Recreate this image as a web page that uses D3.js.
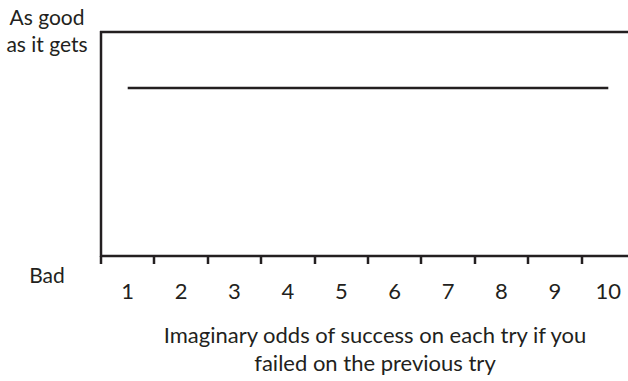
<!DOCTYPE html>
<html><head><meta charset="utf-8">
<script src="https://cdn.jsdelivr.net/npm/d3@7"></script>
<style>body{margin:0;background:#fff}svg{display:block}text{font-family:"Lato","Open Sans",sans-serif;fill:#231f20}</style>
</head><body>
<script>
const categories = [1,2,3,4,5,6,7,8,9,10];
const values = [0.75,0.75,0.75,0.75,0.75,0.75,0.75,0.75,0.75,0.75];
const yLabelTop = ["As good","as it gets"];
const yLabelBottom = "Bad";
const xTitle = ["Imaginary odds of success on each try if you","failed on the previous try"];

const W=628,H=381;
const svg=d3.select("body").append("svg").attr("width",W).attr("height",H);
const x=d3.scaleBand().domain(categories).range([101,635]);
const y=d3.scaleLinear().domain([0,1]).range([256,32]);
const ink="#231f20";
const sw=2.5;

// x axis with ticks at band starts
const gx=svg.append("g");
gx.append("line").attr("x1",100).attr("x2",W).attr("y1",y(0)).attr("y2",y(0)).attr("stroke",ink).attr("stroke-width",sw);
gx.selectAll(".t").data(categories).join("line")
  .attr("x1",d=>Math.round(x(d))).attr("x2",d=>Math.round(x(d)))
  .attr("y1",y(0)).attr("y2",y(0)+8).attr("stroke",ink).attr("stroke-width",sw);
gx.selectAll(".l").data(categories).join("text")
  .attr("x",d=>x(d)+x.bandwidth()/2).attr("y",299)
  .attr("text-anchor","middle").attr("font-size",22).text(d=>d);

// y axis and top border
svg.append("line").attr("x1",101).attr("x2",101).attr("y1",y(1)-1).attr("y2",y(0)+1).attr("stroke",ink).attr("stroke-width",sw);
svg.append("line").attr("x1",100).attr("x2",W).attr("y1",y(1)).attr("y2",y(1)).attr("stroke",ink).attr("stroke-width",sw);

// data line
const line=d3.line().x((d,i)=>x(categories[i])+x.bandwidth()/2).y(d=>y(d));
svg.append("path").datum(values).attr("d",line).attr("fill","none").attr("stroke",ink).attr("stroke-width",sw);

// y labels
svg.selectAll(".yt").data(yLabelTop).join("text")
  .attr("x",47).attr("y",(d,i)=>25+i*27).attr("text-anchor","middle").attr("font-size",21).text(d=>d);
svg.append("text").attr("x",47).attr("y",283).attr("text-anchor","middle").attr("font-size",21).text(yLabelBottom);

// x title
svg.selectAll(".xt").data(xTitle).join("text")
  .attr("x",375).attr("y",(d,i)=>343+i*28).attr("text-anchor","middle").attr("font-size",22).text(d=>d);
</script>
</body></html>
